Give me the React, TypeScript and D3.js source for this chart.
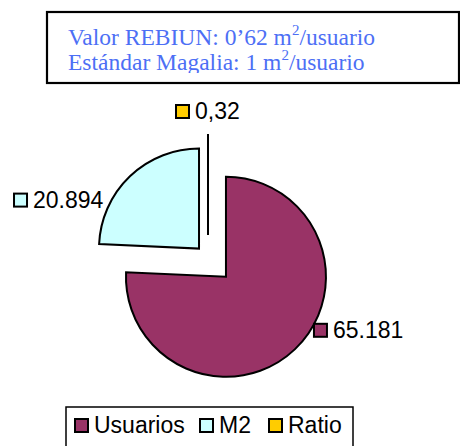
import React from "react";
import * as d3 from "d3";

const categories = ["Usuarios", "M2", "Ratio"];
const values = [65181, 20894, 0.32];
const valueLabels = ["65.181", "20.894", "0,32"];
const colors = ["#993366", "#CCFFFF", "#FFCC00"];
const noteLines = [
  ["Valor REBIUN: 0\u201962 m", "2", "/usuario"],
  ["Est\u00e1ndar Magalia: 1 m", "2", "/usuario"],
];

const W = 460,
  H = 446;
const cx = 208,
  cy = 258,
  radius = 100;
// explosion of each slice, along its mid angle
const explode = [26, 13, 23];
// where each value label sits, relative to its slice's center
const labelPos = [
  [87, 46],
  [-186, -56],
  [-33, -131],
];
const legendX = [74, 199, 268];
const sans = "'Liberation Sans', Arial, sans-serif";
const serif = "'Liberation Serif', 'Times New Roman', serif";

export default function App() {
  const pie = d3
    .pie<number>()
    .sort(null)
    .value((d) => d)
    .startAngle(0)
    .endAngle(2 * Math.PI);
  const arcs = pie(values);
  const arc = d3.arc<d3.PieArcDatum<number>>().innerRadius(0).outerRadius(radius);

  const centers = arcs.map((a, i) => {
    const mid = (a.startAngle + a.endAngle) / 2;
    const [ox, oy] = d3.pointRadial(mid, explode[i]);
    return [cx + ox, cy + oy];
  });

  return (
    <svg
      width={W}
      height={H}
      style={{ position: "absolute", left: 0, top: 0, background: "#fff" }}
    >
      <defs>
        <clipPath id="noteClip">
          <rect x={48} y={13} width={410} height={60} />
        </clipPath>
      </defs>
      {/* tail of a letter from the text above the figure */}
      <text x={-2} y={-5} fontFamily={serif} fontSize={21}>
        g
      </text>
      <rect x={47} y={12} width={412} height={71} fill="#fff" stroke="#000" strokeWidth={2.2} />
      <g clipPath="url(#noteClip)">
        {noteLines.map((l, i) => (
          <text key={i} x={68} y={45 + i * 25} fontFamily={serif} fontSize={23.5} fill="#4d6ff5">
            {l[0]}
            <tspan fontSize={15} dy={-10}>
              {l[1]}
            </tspan>
            <tspan dy={10}>{l[2]}</tspan>
          </text>
        ))}
      </g>

      {arcs.map((a, i) => (
        <path
          key={categories[i]}
          d={arc(a) as string}
          transform={`translate(${centers[i][0]},${centers[i][1]})`}
          fill={colors[i]}
          stroke="#000"
          strokeWidth={2}
          strokeLinejoin="miter"
        />
      ))}

      {arcs.map((a, i) => {
        const x = centers[i][0] + labelPos[i][0];
        const y = centers[i][1] + labelPos[i][1];
        return (
          <g key={"l" + i} transform={`translate(${x},${y})`}>
            <rect x={1} y={1} width={13} height={13} fill={colors[i]} stroke="#000" strokeWidth={2} />
            <text x={20} y={15} fontFamily={sans} fontSize={23} fill="#000">
              {valueLabels[i]}
            </text>
          </g>
        );
      })}

      <rect x={66} y={407} width={287} height={60} fill="#fff" stroke="#000" strokeWidth={1.5} />
      {categories.map((c, i) => (
        <g key={"g" + c} transform={`translate(${legendX[i]},418)`}>
          <rect x={1} y={1} width={13} height={13} fill={colors[i]} stroke="#000" strokeWidth={2} />
          <text x={20} y={15} fontFamily={sans} fontSize={23} fill="#000">
            {c}
          </text>
        </g>
      ))}
    </svg>
  );
}
